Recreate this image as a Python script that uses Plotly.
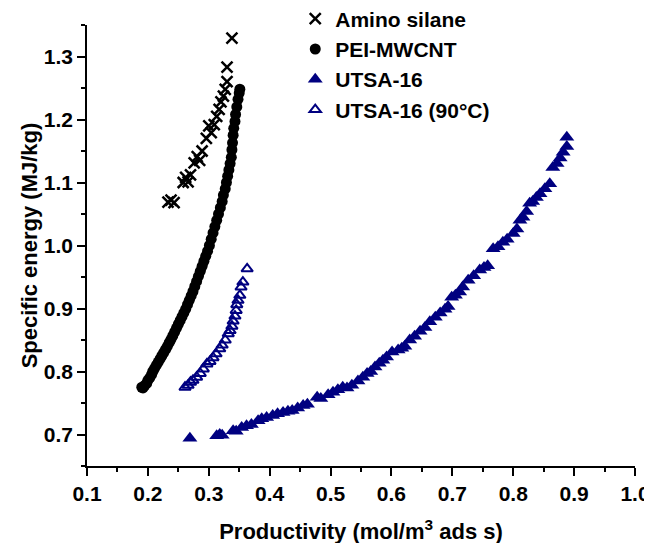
import plotly.graph_objects as go

# ---- data ----
amino_x = [0.233, 0.238, 0.243, 0.258, 0.262, 0.266, 0.270, 0.276, 0.281, 0.285, 0.289,
           0.296, 0.300, 0.304, 0.309, 0.313, 0.317, 0.320, 0.324, 0.327, 0.330, 0.330, 0.338]
amino_y = [1.069, 1.072, 1.068, 1.100, 1.108, 1.101, 1.112, 1.131, 1.141, 1.135, 1.150,
           1.170, 1.190, 1.179, 1.192, 1.205, 1.216, 1.228, 1.237, 1.248, 1.260, 1.283, 1.329]

pei_x = [0.190, 0.192, 0.195, 0.198, 0.200, 0.203, 0.206, 0.208, 0.211, 0.214, 0.217, 0.220,
         0.223, 0.226, 0.229, 0.232, 0.235, 0.238, 0.241, 0.244, 0.247, 0.250, 0.253, 0.256,
         0.259, 0.262, 0.265, 0.268, 0.271, 0.274, 0.277, 0.280, 0.283, 0.286, 0.289, 0.292,
         0.295, 0.298, 0.301, 0.304, 0.307, 0.310, 0.313, 0.316, 0.319, 0.322, 0.324, 0.327,
         0.329, 0.331, 0.333, 0.335, 0.337, 0.338, 0.339, 0.340, 0.341, 0.343, 0.344, 0.346,
         0.348, 0.350, 0.351]
pei_y = [0.775, 0.774, 0.778, 0.781, 0.786, 0.790, 0.795, 0.800, 0.805, 0.810, 0.815, 0.820,
         0.825, 0.830, 0.835, 0.840, 0.846, 0.851, 0.857, 0.863, 0.869, 0.875, 0.881, 0.887,
         0.893, 0.899, 0.906, 0.913, 0.920, 0.927, 0.935, 0.943, 0.951, 0.959, 0.967, 0.975,
         0.983, 0.991, 1.000, 1.010, 1.020, 1.030, 1.040, 1.050, 1.060, 1.070, 1.080, 1.090,
         1.100, 1.110, 1.120, 1.130, 1.140, 1.152, 1.163, 1.175, 1.186, 1.197, 1.208, 1.220,
         1.232, 1.242, 1.248]

utsa_x = [0.269, 0.313, 0.318, 0.322, 0.340, 0.345, 0.354, 0.362, 0.370, 0.381, 0.387, 0.395,
          0.405, 0.413, 0.422, 0.430, 0.437, 0.446, 0.455, 0.462, 0.478, 0.484, 0.496, 0.504,
          0.512, 0.520, 0.527, 0.535, 0.545, 0.553, 0.560, 0.566, 0.573, 0.580, 0.586, 0.592,
          0.601, 0.611, 0.617, 0.622, 0.630, 0.638, 0.647, 0.655, 0.663, 0.672, 0.680, 0.688,
          0.693, 0.699, 0.705, 0.712, 0.717, 0.726, 0.735, 0.745, 0.752, 0.758, 0.767, 0.775,
          0.783, 0.790, 0.800, 0.806, 0.811, 0.816, 0.822, 0.827, 0.832, 0.838, 0.844, 0.852,
          0.860, 0.865, 0.872, 0.877, 0.882, 0.888, 0.888]
utsa_y = [0.694, 0.698, 0.700, 0.699, 0.706, 0.705, 0.711, 0.714, 0.716, 0.722, 0.725, 0.727,
          0.730, 0.733, 0.735, 0.737, 0.738, 0.742, 0.746, 0.748, 0.759, 0.757, 0.763, 0.767,
          0.771, 0.775, 0.774, 0.778, 0.785, 0.791, 0.797, 0.800, 0.807, 0.813, 0.818, 0.823,
          0.831, 0.834, 0.837, 0.840, 0.850, 0.856, 0.864, 0.870, 0.879, 0.886, 0.893, 0.899,
          0.903, 0.918, 0.921, 0.926, 0.934, 0.945, 0.952, 0.961, 0.965, 0.968, 0.995, 0.998,
          1.005, 1.010, 1.019, 1.026, 1.040, 1.045, 1.054, 1.067, 1.070, 1.076, 1.082, 1.090,
          1.098, 1.124, 1.130, 1.139, 1.148, 1.157, 1.172]

utsa90_x = [0.261, 0.266, 0.270, 0.274, 0.280, 0.286, 0.291, 0.297, 0.302, 0.307, 0.312,
            0.318, 0.322, 0.327, 0.332, 0.335, 0.338, 0.340, 0.343, 0.345, 0.346, 0.348,
            0.351, 0.353, 0.356, 0.363]
utsa90_y = [0.775, 0.778, 0.783, 0.786, 0.791, 0.797, 0.804, 0.812, 0.816, 0.822, 0.828,
            0.836, 0.842, 0.850, 0.860, 0.865, 0.872, 0.880, 0.888, 0.897, 0.906, 0.913,
            0.921, 0.934, 0.942, 0.963]

names = ["Amino silane", "PEI-MWCNT", "UTSA-16", "UTSA-16 (90°C)"]

NAVY = "#000080"
FONT = "Arial, Liberation Sans, sans-serif"

fig = go.Figure()
fig.add_trace(go.Scatter(
    x=amino_x, y=amino_y, mode="markers", name="<b>%s</b>" % names[0],
    marker=dict(symbol="x-thin", size=11, color="black",
                line=dict(color="black", width=2.5))))
fig.add_trace(go.Scatter(
    x=pei_x, y=pei_y, mode="markers", name="<b>%s</b>" % names[1],
    marker=dict(symbol="circle", size=11, color="black", line=dict(width=0))))
fig.add_trace(go.Scatter(
    x=utsa_x, y=utsa_y, mode="markers", name="<b>%s</b>" % names[2],
    marker=dict(symbol="triangle-up", size=13, color=NAVY, line=dict(width=0))))
fig.add_trace(go.Scatter(
    x=utsa90_x, y=utsa90_y, mode="markers", name="<b>%s</b>" % names[3],
    marker=dict(symbol="triangle-up-open", size=10, color=NAVY,
                line=dict(color=NAVY, width=2))))

axis_common = dict(
    showline=True, linecolor="black", linewidth=1.5,
    ticks="outside", ticklen=8, tickwidth=1.5, tickcolor="black",
    showgrid=False, zeroline=False, mirror=False, automargin=False,
    tickfont=dict(family=FONT, size=21, color="black", weight="bold"),
)

fig.update_xaxes(
    range=[0.1, 1.0], dtick=0.1, tick0=0.1, tickformat=".1f",
    minor=dict(ticks="outside", ticklen=4, tickwidth=1.5, tickcolor="black", dtick=0.05, tick0=0.1),
    title=dict(text="<b>Productivity (mol/m<sup>3</sup> ads s)</b>",
               font=dict(family=FONT, size=22, color="black"), standoff=20),
    **axis_common)
fig.update_yaxes(
    range=[0.65, 1.35], dtick=0.1, tick0=0.7, tickformat=".1f",
    minor=dict(ticks="outside", ticklen=4, tickwidth=1.5, tickcolor="black", dtick=0.05, tick0=0.65),
    title=dict(text="<b>Specific energy (MJ/kg)</b>",
               font=dict(family=FONT, size=22, color="black"), standoff=0),
    **axis_common)

# the page body adds an 8 px offset, so margins are shifted by 8 px
fig.update_layout(
    width=652, height=543,
    margin=dict(l=79, r=25, t=17, b=85, autoexpand=False),
    plot_bgcolor="white", paper_bgcolor="white",
    font=dict(family=FONT, color="black"),
    legend=dict(x=0.38, y=1.06, xanchor="left", yanchor="top",
                font=dict(family=FONT, size=21, color="black"),
                bgcolor="rgba(0,0,0,0)", itemsizing="trace"),
)

fig.write_html("out.html")
